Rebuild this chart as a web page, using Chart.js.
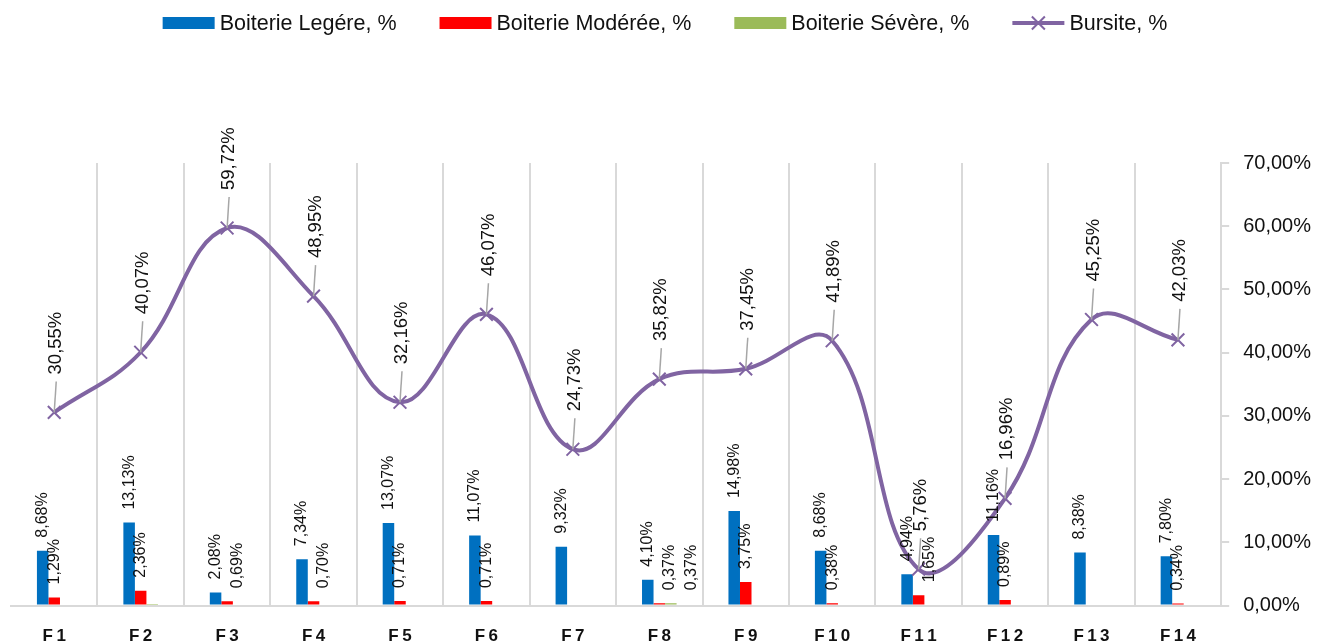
<!DOCTYPE html>
<html><head><meta charset="utf-8">
<script src="https://cdn.jsdelivr.net/npm/chart.js@4/dist/chart.umd.min.js"></script>
<style>html,body{margin:0;padding:0;background:#fff}#wrap{width:1330px;height:644px}</style>
</head><body><div id="wrap"><canvas id="c" width="1330" height="644"></canvas></div>
<script>
const categories = ['F1','F2','F3','F4','F5','F6','F7','F8','F9','F10','F11','F12','F13','F14'];
const legere  = [8.68,13.13,2.08,7.34,13.07,11.07,9.32,4.10,14.98,8.68,4.94,11.16,8.38,7.80];
const moderee = [1.29,2.36,0.69,0.70,0.71,0.71,null,0.37,3.75,0.38,1.65,0.89,null,0.34];
const severe  = [null,0.25,null,null,null,null,null,0.37,null,null,null,null,null,null];
const severeLabels = [null,null,null,null,null,null,null,'0,37%',null,null,null,null,null,null];
const bursite = [30.55,40.07,59.72,48.95,32.16,46.07,24.73,35.82,37.45,41.89,5.76,16.96,45.25,42.03];
const seriesNames = ['Boiterie Legére, %','Boiterie Modérée, %','Boiterie Sévère, %','Bursite, %'];
const yMin = 0, yMax = 70, yStep = 10;

const FONT = "'Liberation Sans', Arial, sans-serif";
const fmt = v => v.toFixed(2).replace('.', ',') + '%';

function drawVText(ctx, text, x, yBottom) {
  ctx.save();
  ctx.translate(x, yBottom);
  ctx.rotate(-Math.PI / 2);
  ctx.textAlign = 'left';
  ctx.textBaseline = 'middle';
  ctx.fillText(text, 0, 0);
  ctx.restore();
}

const labelPlugin = {
  id: 'valueLabels',
  afterDatasetsDraw(chart) {
    const ctx = chart.ctx;
    const placed = {};
    ctx.save();
    ctx.fillStyle = '#111';
    chart.data.datasets.forEach((ds, di) => {
      const meta = chart.getDatasetMeta(di);
      if (meta.hidden) return;
      meta.data.forEach((el, i) => {
        const v = ds.data[i];
        if (v == null) return;
        const text = ds.labelTexts ? ds.labelTexts[i] : fmt(v);
        if (!text) return;
        if (ds.type === 'line') {
          const lx = el.x + 2, ly = el.y - 38;
          ctx.strokeStyle = '#A6A6A6';
          ctx.lineWidth = 1.5;
          ctx.beginPath();
          ctx.moveTo(el.x, el.y);
          ctx.lineTo(lx, ly + 7);
          ctx.stroke();
          ctx.font = "18.5px " + FONT;
          drawVText(ctx, text, lx, ly);
        } else {
          ctx.font = "16px " + FONT;
          const len = ctx.measureText(text).width;
          let x = el.x;
          const yb = el.y - 13, yt = yb - len;
          const list = placed[i] || (placed[i] = []);
          let moved = true;
          while (moved) {
            moved = false;
            for (const r of list) {
              if (Math.abs(r.x - x) < 12 && yt < r.yb && yb > r.yt) { x = r.x + 22; moved = true; }
            }
          }
          list.push({ x, yb, yt });
          drawVText(ctx, text, x, yb);
        }
      });
    });
    ctx.restore();
  }
};

const legendPlugin = {
  id: 'customLegend',
  afterDraw(chart) {
    const ctx = chart.ctx;
    ctx.save();
    ctx.font = "21.5px " + FONT;
    const boxW = 52, gapT = 5, gapI = 43, y = 23;
    const items = chart.data.datasets.map(ds => ({
      text: ds.label, color: ds.type === 'line' ? ds.borderColor : ds.backgroundColor, line: ds.type === 'line'
    }));
    let total = 0;
    items.forEach((it, k) => { it.w = ctx.measureText(it.text).width; total += boxW + gapT + it.w + (k ? gapI : 0); });
    let x = (chart.width - total) / 2;
    items.forEach(it => {
      if (it.line) {
        ctx.strokeStyle = it.color; ctx.lineWidth = 4;
        ctx.beginPath(); ctx.moveTo(x, y); ctx.lineTo(x + boxW, y); ctx.stroke();
        ctx.lineWidth = 2;
        const cx = x + boxW / 2, r = 6.5;
        ctx.beginPath();
        ctx.moveTo(cx - r, y - r); ctx.lineTo(cx + r, y + r);
        ctx.moveTo(cx + r, y - r); ctx.lineTo(cx - r, y + r);
        ctx.stroke();
      } else {
        ctx.fillStyle = it.color;
        ctx.fillRect(x, y - 6, boxW, 12);
      }
      ctx.fillStyle = '#111';
      ctx.textAlign = 'left'; ctx.textBaseline = 'middle';
      ctx.fillText(it.text, x + boxW + gapT, y + 1);
      x += boxW + gapT + it.w + gapI;
    });
    ctx.restore();
  }
};

new Chart(document.getElementById('c'), {
  data: {
    labels: categories,
    datasets: [
      { type: 'bar', label: seriesNames[0], data: legere, backgroundColor: '#0070C0', order: 1 },
      { type: 'bar', label: seriesNames[1], data: moderee, backgroundColor: '#FF0000', order: 1 },
      { type: 'bar', label: seriesNames[2], data: severe, backgroundColor: '#9BBB59', order: 1, labelTexts: severeLabels },
      { type: 'line', label: seriesNames[3], data: bursite, order: 0,
        borderColor: '#8064A2', borderWidth: 4, tension: 0.4,
        pointStyle: 'crossRot', pointRadius: 9, pointBorderWidth: 2,
        pointBorderColor: '#8064A2', pointBackgroundColor: 'rgba(0,0,0,0)' }
    ]
  },
  options: {
    responsive: false,
    animation: false,
    devicePixelRatio: 1,
    layout: { padding: { top: 163, left: 11, right: 5, bottom: -24 } },
    datasets: { bar: { barPercentage: 1, categoryPercentage: 0.4 } },
    plugins: { legend: { display: false }, tooltip: { enabled: false } },
    scales: {
      x: {
        offset: true,
        grid: { offset: true, color: ctx => ctx.index === 0 ? 'rgba(0,0,0,0)' : '#D9D9D9', lineWidth: 2, drawTicks: false },
        border: { color: '#D9D9D9', width: 2 },
        ticks: {
          padding: 21, color: '#111',
          font: { family: FONT, size: 17, weight: 'bold' },
          callback: (v, i) => categories[i].split('').join('\u2009')
        }
      },
      y: {
        position: 'right', min: yMin, max: yMax,
        grid: { drawOnChartArea: false, drawTicks: true, tickLength: 8, color: '#D9D9D9', lineWidth: 2 },
        border: { color: '#D9D9D9', width: 2 },
        ticks: { stepSize: yStep, padding: 14, color: '#111', font: { family: FONT, size: 20 },
                 callback: v => fmt(v) }
      }
    }
  },
  plugins: [labelPlugin, legendPlugin]
});
</script></body></html>
